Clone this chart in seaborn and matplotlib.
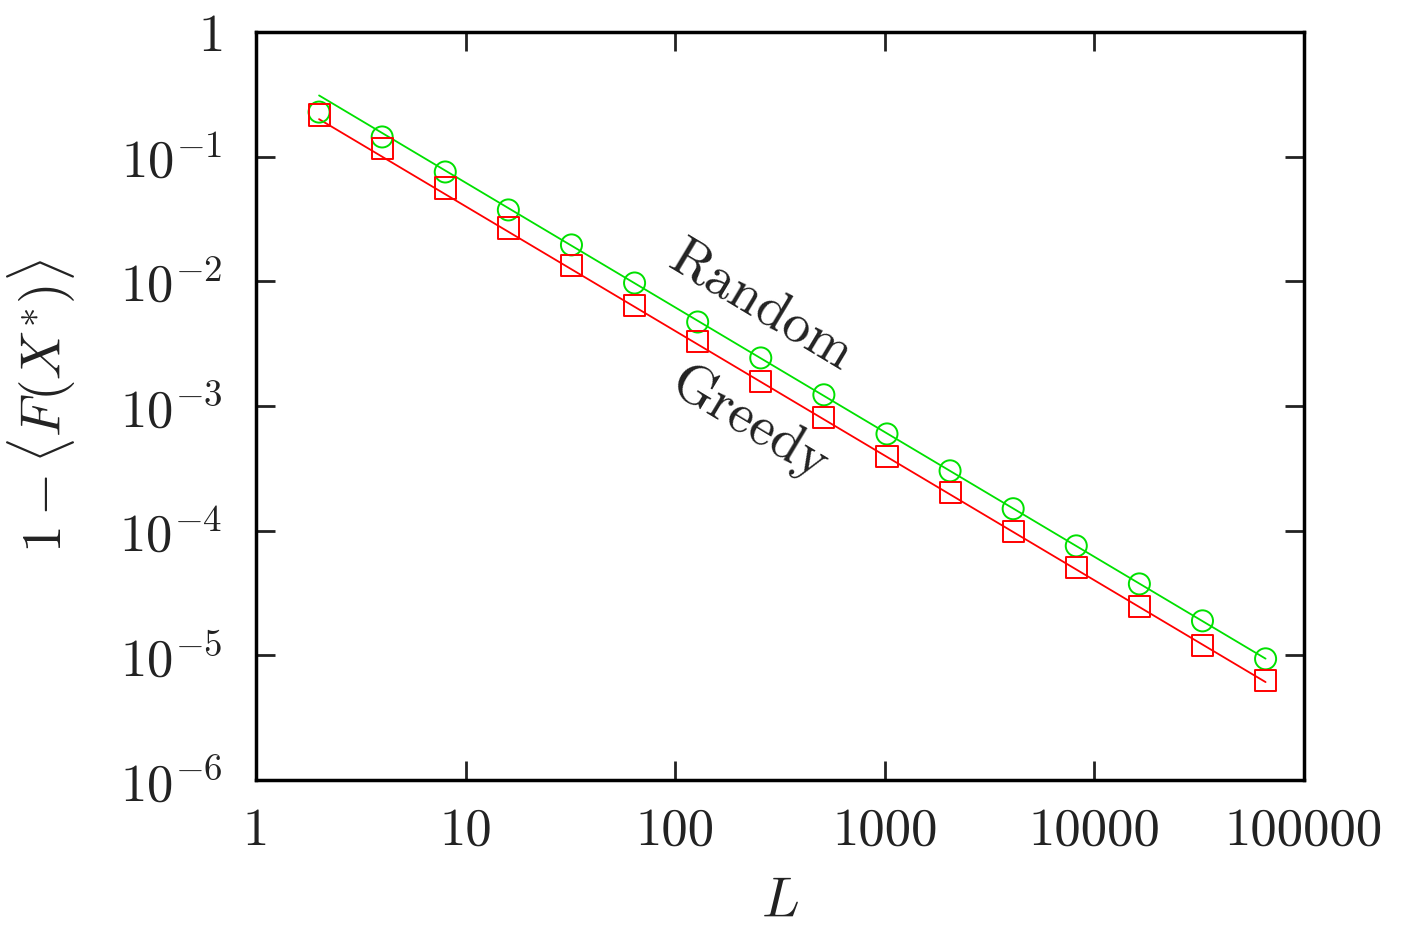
import numpy as np
import pandas as pd
import seaborn as sns
import matplotlib.pyplot as plt

# system sizes
L = [2, 4, 8, 16, 32, 64, 128, 256, 512, 1024, 2048, 4096, 8192, 16384, 32768, 65536]

# 1 - <F(X*)>
random_vals = [0.228, 0.144, 0.0754, 0.0374, 0.0196, 0.0097, 0.00472, 0.00243, 0.00123,
               0.000597, 0.000302, 0.000150, 7.55e-5, 3.74e-5, 1.89e-5, 9.37e-6]
greedy_vals = [0.216, 0.117, 0.0561, 0.0268, 0.0135, 0.00635, 0.00327, 0.00156, 0.000803,
               0.000391, 0.000201, 9.78e-5, 5.03e-5, 2.45e-5, 1.19e-5, 6.25e-6]

# fitted lines (end points)
fit_L = [2, 65536]
fit_random = [0.31, 9.4e-6]
fit_greedy = [0.20, 6.1e-6]

xticks = [1, 10, 100, 1000, 10000, 100000]
xticklabels = ['1', '10', '100', '1000', '10000', '100000']
yticks = [1e-6, 1e-5, 1e-4, 1e-3, 1e-2, 1e-1, 1]
yticklabels = [r'$10^{-6}$', r'$10^{-5}$', r'$10^{-4}$', r'$10^{-3}$', r'$10^{-2}$', r'$10^{-1}$', r'$1$']

sns.set_style('ticks')
plt.rcParams['font.family'] = ['cmr10', 'DejaVu Serif']
plt.rcParams['mathtext.fontset'] = 'cm'
plt.rcParams['axes.unicode_minus'] = False

df = pd.DataFrame({'L': L, 'Random': random_vals, 'Greedy': greedy_vals})
fits = pd.DataFrame({'L': fit_L, 'Random': fit_random, 'Greedy': fit_greedy})

green = '#00e000'
red = '#ff0000'
txt = '#222222'

fig = plt.figure(figsize=(14.01, 9.26), dpi=100)
ax = fig.add_axes([0.1827, 0.1577, 0.7481, 0.8077])

sns.lineplot(data=fits, x='L', y='Random', color=green, lw=1.3, ax=ax)
sns.lineplot(data=fits, x='L', y='Greedy', color=red, lw=1.3, ax=ax)
sns.scatterplot(data=df, x='L', y='Random', marker='o', s=230, facecolor='none',
                edgecolor=green, linewidth=1.4, ax=ax, zorder=3)
sns.scatterplot(data=df, x='L', y='Greedy', marker='s', s=230, facecolor='none',
                edgecolor=red, linewidth=1.4, ax=ax, zorder=3)

ax.set_xscale('log')
ax.set_yscale('log')
ax.set_xlim(1, 100000)
ax.set_ylim(1e-6, 1)
ax.set_xticks(xticks)
ax.set_xticklabels(xticklabels)
ax.set_yticks(yticks)
ax.set_yticklabels(yticklabels)
ax.minorticks_off()

ax.tick_params(which='major', direction='in', length=14, width=2, top=True, right=True,
               labelsize=38, colors=txt)
ax.tick_params(axis='x', pad=20)
ax.tick_params(axis='y', pad=24)
for s in ax.spines.values():
    s.set_linewidth(2.5)
    s.set_color('black')

ax.set_xlabel(r'$L$', fontsize=40, labelpad=17, color=txt)
ax.set_ylabel(r'$1-\langle F(X^{*})\rangle$', fontsize=40, labelpad=30, color=txt)

ax.text(254, 6.2e-3, 'Random', fontsize=40, rotation=-31, ha='center', va='center',
        rotation_mode='anchor', color=txt)
ax.text(227, 7.2e-4, 'Greedy', fontsize=40, rotation=-31, ha='center', va='center',
        rotation_mode='anchor', color=txt)

fig.savefig('out.png', dpi=100)
